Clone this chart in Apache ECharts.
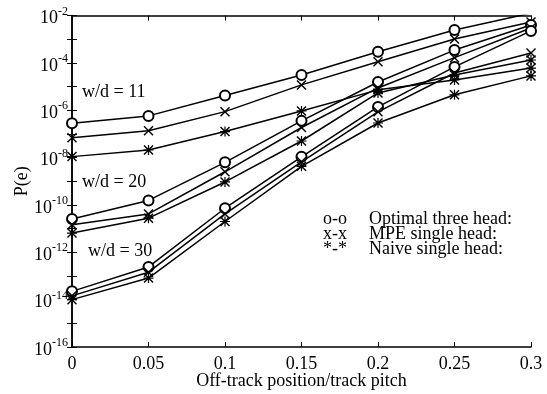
<!DOCTYPE html>
<html>
<head>
<meta charset="utf-8">
<script src="https://cdn.jsdelivr.net/npm/echarts@6/dist/echarts.min.js"></script>
<style>
  html, body { margin: 0; padding: 0; background: #fff; }
  #chart { width: 547px; height: 394px; }
</style>
</head>
<body>
<div id="chart"></div>
<script>
// off-track position / track pitch
const offTrack = [0, 0.05, 0.1, 0.15, 0.2, 0.25, 0.3]
// log10 P(e)
const optimal11 = [-6.55, -6.24, -5.38, -4.51, -3.53, -2.61, -1.9]
const mpe11 = [-7.16, -6.87, -6.06, -4.93, -3.95, -2.99, -2.27]
const naive11 = [-7.96, -7.68, -6.9, -6.03, -5.14, -4.72, -4.22]
const optimal20 = [-10.59, -9.81, -8.2, -6.45, -4.81, -3.46, -2.4]
const mpe20 = [-10.84, -10.38, -8.6, -6.73, -5.06, -3.78, -2.53]
const naive20 = [-11.19, -10.56, -9.03, -7.3, -5.27, -4.51, -3.88]
const optimal30 = [-13.65, -12.62, -10.14, -7.97, -5.86, -4.17, -2.65]
const mpe30 = [-13.84, -12.84, -10.38, -8.18, -6.07, -4.43, -3.58]
const naive30 = [-14.0, -13.09, -10.7, -8.37, -6.54, -5.35, -4.55]

const legendMarks = ['o-o', 'x-x', '*-*']
const legendNames = ['Optimal three head:', 'MPE single head:', 'Naive single head:']

const serif = 'Liberation Serif'
const font = '18px "Liberation Serif"'
const crossPath = 'path://M0,1L1,0L5,4L9,0L10,1L6,5L10,9L9,10L5,6L1,10L0,9L4,5Z'
const starPath = crossPath + 'M4.4,0L5.6,0L5.6,10L4.4,10ZM0,4.4L10,4.4L10,5.6L0,5.6Z'

const makeSeries = (name, values, kind) => {
  const symbol = kind === 'o' ? 'emptyCircle' : kind === 'x' ? crossPath : starPath
  return {
    name: name,
    type: 'line',
    xAxisIndex: 0,
    yAxisIndex: 0,
    data: offTrack.map((x, i) => [x, values[i]]),
    symbol: symbol,
    symbolSize: 10,
    showAllSymbol: true,
    lineStyle: { color: '#000', width: 1.5 },
    itemStyle: kind === 'o'
      ? { color: '#000', borderColor: '#000', borderWidth: 1 }
      : { color: '#000', borderWidth: 0 },
    emphasis: { disabled: true },
    z: 3,
  }
}

const tickStyle = { inside: true, length: 5, lineStyle: { color: '#000', width: 1 } }
const lineStyle = { show: true, lineStyle: { color: '#000', width: 1.5 } }

const myChart = echarts.init(document.getElementById('chart'))
const option = {
  animation: false,
  backgroundColor: '#fff',
  grid: { left: 72, right: 16, top: 15.5, bottom: 47, containLabel: false, outerBoundsMode: 'none' },
  xAxis: [
    {
      type: 'value',
      min: 0,
      max: 0.3,
      interval: 0.05,
      position: 'bottom',
      axisLine: lineStyle,
      axisTick: tickStyle,
      splitLine: { show: false },
      axisLabel: {
        color: '#000',
        fontFamily: serif,
        fontSize: 18,
        margin: 8,
        formatter: (v) => String(Math.round(v * 100) / 100),
      },
      name: 'Off-track position/track pitch',
      nameLocation: 'middle',
      nameGap: 25,
      nameMoveOverlap: false,
      nameTextStyle: { color: '#000', fontFamily: serif, fontSize: 18 },
    },
    {
      type: 'value',
      min: 0,
      max: 0.3,
      interval: 0.05,
      position: 'top',
      axisLine: lineStyle,
      axisTick: tickStyle,
      splitLine: { show: false },
      axisLabel: { show: false },
    },
  ],
  yAxis: [
    {
      type: 'value',
      min: -16,
      max: -2,
      interval: 2,
      position: 'left',
      axisLine: lineStyle,
      axisTick: tickStyle,
      minorTick: { show: true, splitNumber: 2, length: 5, lineStyle: { color: '#000', width: 1 } },
      splitLine: { show: false },
      minorSplitLine: { show: false },
      axisLabel: {
        margin: 4,
        formatter: (v) => '{b|10}{s|' + v + '}',
        rich: {
          b: { fontFamily: serif, fontSize: 18, color: '#000', padding: [6, 0, 0, 0] },
          s: { fontFamily: serif, fontSize: 12, color: '#000', padding: [0, 0, 8, 0] },
        },
      },
      name: 'P(e)',
      nameLocation: 'middle',
      nameGap: 41,
      nameMoveOverlap: false,
      nameRotate: 90,
      nameTextStyle: { color: '#000', fontFamily: serif, fontSize: 18 },
    },
    {
      type: 'value',
      min: -16,
      max: -2,
      interval: 2,
      position: 'right',
      axisLine: lineStyle,
      axisTick: tickStyle,
      minorTick: { show: true, splitNumber: 2, length: 5, lineStyle: { color: '#000', width: 1 } },
      splitLine: { show: false },
      minorSplitLine: { show: false },
      axisLabel: { show: false },
    },
  ],
  series: [
    makeSeries('w/d = 11 optimal', optimal11, 'o'),
    makeSeries('w/d = 11 MPE', mpe11, 'x'),
    makeSeries('w/d = 11 naive', naive11, '*'),
    makeSeries('w/d = 20 optimal', optimal20, 'o'),
    makeSeries('w/d = 20 MPE', mpe20, 'x'),
    makeSeries('w/d = 20 naive', naive20, '*'),
    makeSeries('w/d = 30 optimal', optimal30, 'o'),
    makeSeries('w/d = 30 MPE', mpe30, 'x'),
    makeSeries('w/d = 30 naive', naive30, '*'),
  ],
  graphic: [
    { type: 'text', left: 82, top: 83, style: { text: 'w/d = 11', font: font, fill: '#000' } },
    { type: 'text', left: 82, top: 173, style: { text: 'w/d = 20', font: font, fill: '#000' } },
    { type: 'text', left: 88, top: 242, style: { text: 'w/d = 30', font: font, fill: '#000' } },
    ...legendMarks.map((m, i) => ({
      type: 'text', left: 323, top: 210 + i * 15,
      style: { text: m, font: font, fill: '#000' },
    })),
    ...legendNames.map((n, i) => ({
      type: 'text', left: 369, top: 210 + i * 15,
      style: { text: n, font: font, fill: '#000' },
    })),
  ],
}
option && myChart.setOption(option)
</script>
</body>
</html>
